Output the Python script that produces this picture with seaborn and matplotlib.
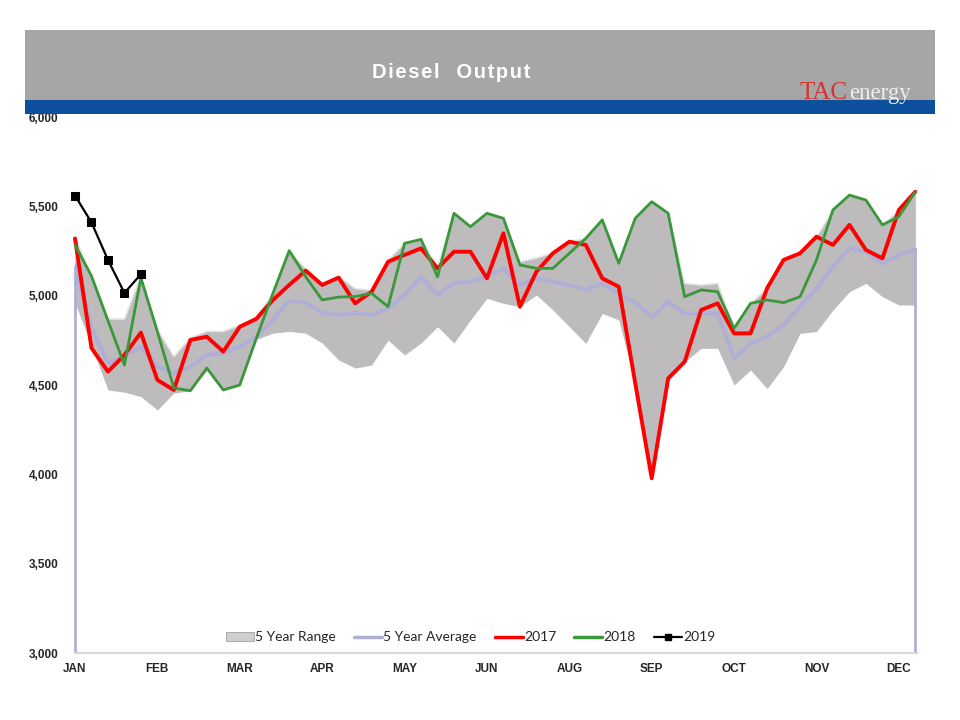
import numpy as np
import matplotlib
matplotlib.use("Agg")
import matplotlib.pyplot as plt
import matplotlib.patches as mpatches
from matplotlib.lines import Line2D
import pandas as pd
import seaborn as sns

# weekly diesel output (kb/d), 52 weeks
weeks = list(range(52))
month_labels = ["JAN", "FEB", "MAR", "APR", "MAY", "JUN", "AUG", "SEP", "OCT", "NOV", "DEC"]
month_ticks = list(range(0, 51, 5))

range_high = [5330, 5110, 4870, 4870, 5110, 4810, 4660, 4765, 4800, 4800,
              4836, 4880, 5010, 5252, 5150, 5070, 5110, 5040, 5030, 5200,
              5293, 5315, 5160, 5461, 5386, 5461, 5433, 5190, 5211, 5240,
              5302, 5321, 5424, 5181, 5433, 5526, 5461, 5069, 5060, 5069,
              4817, 4957, 5041, 5200, 5237, 5330, 5480, 5563, 5535, 5396,
              5480, 5582]
range_low = [4960, 4720, 4472, 4460, 4435, 4360, 4455, 4468, 4580, 4472,
             4500, 4755, 4790, 4800, 4790, 4735, 4640, 4595, 4612, 4752,
             4668, 4735, 4826, 4735, 4864, 4985, 4957, 4938, 5004, 4920,
             4826, 4733, 4901, 4864, 4510, 3978, 4537, 4630, 4705, 4705,
             4500, 4584, 4480, 4602, 4789, 4799, 4920, 5022, 5069, 4994,
             4948, 4948]
avg_5yr = [5172, 4820, 4623, 4659, 4714, 4602, 4567, 4602, 4668, 4679,
           4714, 4770, 4864, 4972, 4961, 4903, 4892, 4903, 4892, 4929,
           5004, 5106, 5004, 5069, 5078, 5106, 5153, 5060, 5097, 5078,
           5060, 5032, 5069, 5013, 4960, 4882, 4966, 4901, 4901, 4901,
           4649, 4733, 4770, 4836, 4938, 5041, 5162, 5265, 5246, 5181,
           5228, 5259]
y2017 = [5320, 4707, 4575, 4668, 4793, 4528, 4472, 4752, 4770, 4687,
         4826, 4870, 4975, 5060, 5140, 5060, 5101, 4957, 5022, 5190,
         5228, 5265, 5153, 5246, 5246, 5097, 5349, 4938, 5134, 5237,
         5302, 5284, 5097, 5050, 4510, 3978, 4537, 4630, 4920, 4957,
         4789, 4789, 5041, 5200, 5237, 5330, 5284, 5396, 5256, 5209,
         5480, 5582]
y2018 = [5284, 5110, 4860, 4612, 5099, 4799, 4483, 4468, 4595, 4472,
         4500, 4760, 5010, 5252, 5106, 4976, 4992, 4995, 5013, 4938,
         5293, 5315, 5106, 5461, 5386, 5461, 5433, 5172, 5153, 5153,
         5237, 5321, 5424, 5181, 5433, 5526, 5461, 4994, 5032, 5022,
         4817, 4957, 4976, 4961, 4994, 5200, 5480, 5563, 5535, 5396,
         5442, 5582]
y2019 = [5560, 5410, 5200, 5015, 5120]

df = pd.DataFrame({"week": weeks, "avg": avg_5yr, "2017": y2017, "2018": y2018})
df19 = pd.DataFrame({"week": weeks[:len(y2019)], "2019": y2019})

sns.set_style("white")
plt.rcParams["font.family"] = ["Liberation Sans", "DejaVu Sans"]

fig = plt.figure(figsize=(9.6, 7.2), dpi=100)
ax = fig.add_axes([75 / 960, 1 - 653 / 720, 842 / 960, 536 / 720])

c_band = "#bebbbc"
c_avg = "#afafd6"
c_red = "#ff0000"
c_green = "#3a973a"

ax.fill_between(weeks, range_low, range_high, color=c_band, lw=0, zorder=1)
ax.plot(weeks, range_high, color="#e6e4e4", lw=1.0, zorder=1.5)
ax.vlines([weeks[0], weeks[-1]], 3000, [avg_5yr[0], avg_5yr[-1]], color=c_avg, lw=2,
          zorder=2, clip_on=False)
sns.lineplot(data=df, x="week", y="avg", ax=ax, color=c_avg, lw=3, zorder=2)
sns.lineplot(data=df, x="week", y="2017", ax=ax, color=c_red, lw=2.8, zorder=3, clip_on=False)
sns.lineplot(data=df, x="week", y="2018", ax=ax, color=c_green, lw=2.0, zorder=4, clip_on=False)
sns.lineplot(data=df19, x="week", y="2019", ax=ax, color="black", lw=1.6,
             marker="s", markersize=6, markeredgecolor="black", zorder=5, clip_on=False)

ax.set_xlim(0, 51.1)
ax.set_ylim(3000, 6000)
ax.set_yticks(range(3000, 6001, 500))
ax.set_yticklabels([f"{v:,}" for v in range(3000, 6001, 500)], fontsize=8.5, fontweight="bold")
ax.set_xticks(month_ticks)
ax.set_xticklabels(month_labels, fontsize=8.5, fontweight="bold")
ax.tick_params(axis="both", length=0, pad=7)
ax.tick_params(axis="y", pad=12)
ax.set_xlabel("")
ax.set_ylabel("")
for s in ["left", "right", "top"]:
    ax.spines[s].set_visible(False)
ax.spines["bottom"].set_color("#d9d9d9")
ax.spines["bottom"].set_linewidth(1.5)

handles = [
    mpatches.Patch(facecolor="#d0cece", edgecolor="#a0a0a0", lw=0.6),
    Line2D([], [], color=c_avg, lw=2.5),
    Line2D([], [], color=c_red, lw=2.5),
    Line2D([], [], color=c_green, lw=2.5),
    Line2D([], [], color="black", lw=1.6, marker="s", markersize=5),
]
labels = ["5 Year Range", "5 Year Average", "2017", "2018", "2019"]
leg = ax.legend(handles, labels, loc="center", bbox_to_anchor=(0.47, 0.029), ncol=5,
                frameon=False, handlelength=2.0, handletextpad=0.1, columnspacing=1.3,
                prop={"family": ["Lato", "DejaVu Sans"], "size": 10})

# header band
fig.patches.append(mpatches.Rectangle((25 / 960, 1 - 100 / 720), 910 / 960, 70 / 720,
                                      transform=fig.transFigure, facecolor="#a6a6a6", lw=0))
fig.patches.append(mpatches.Rectangle((25 / 960, 1 - 114 / 720), 910 / 960, 14 / 720,
                                      transform=fig.transFigure, facecolor="#0c4f9d", lw=0))
title = "\u200a".join("Diesel") + "   " + "\u200a".join("Output")
fig.text(451 / 960, 1 - 72 / 720, title,
         color="white", fontsize=14.5, fontweight="bold", ha="center", va="center")
fig.text(800 / 960, 1 - 99 / 720, "TAC", color="#d8312f", fontsize=18,
         family="Liberation Serif", ha="left", va="baseline")
fig.text(849 / 960, 1 - 99 / 720, "energy", color="#eeeeee", fontsize=16.5,
         family="Liberation Serif", ha="left", va="baseline")

fig.savefig("out.png", dpi=100)
